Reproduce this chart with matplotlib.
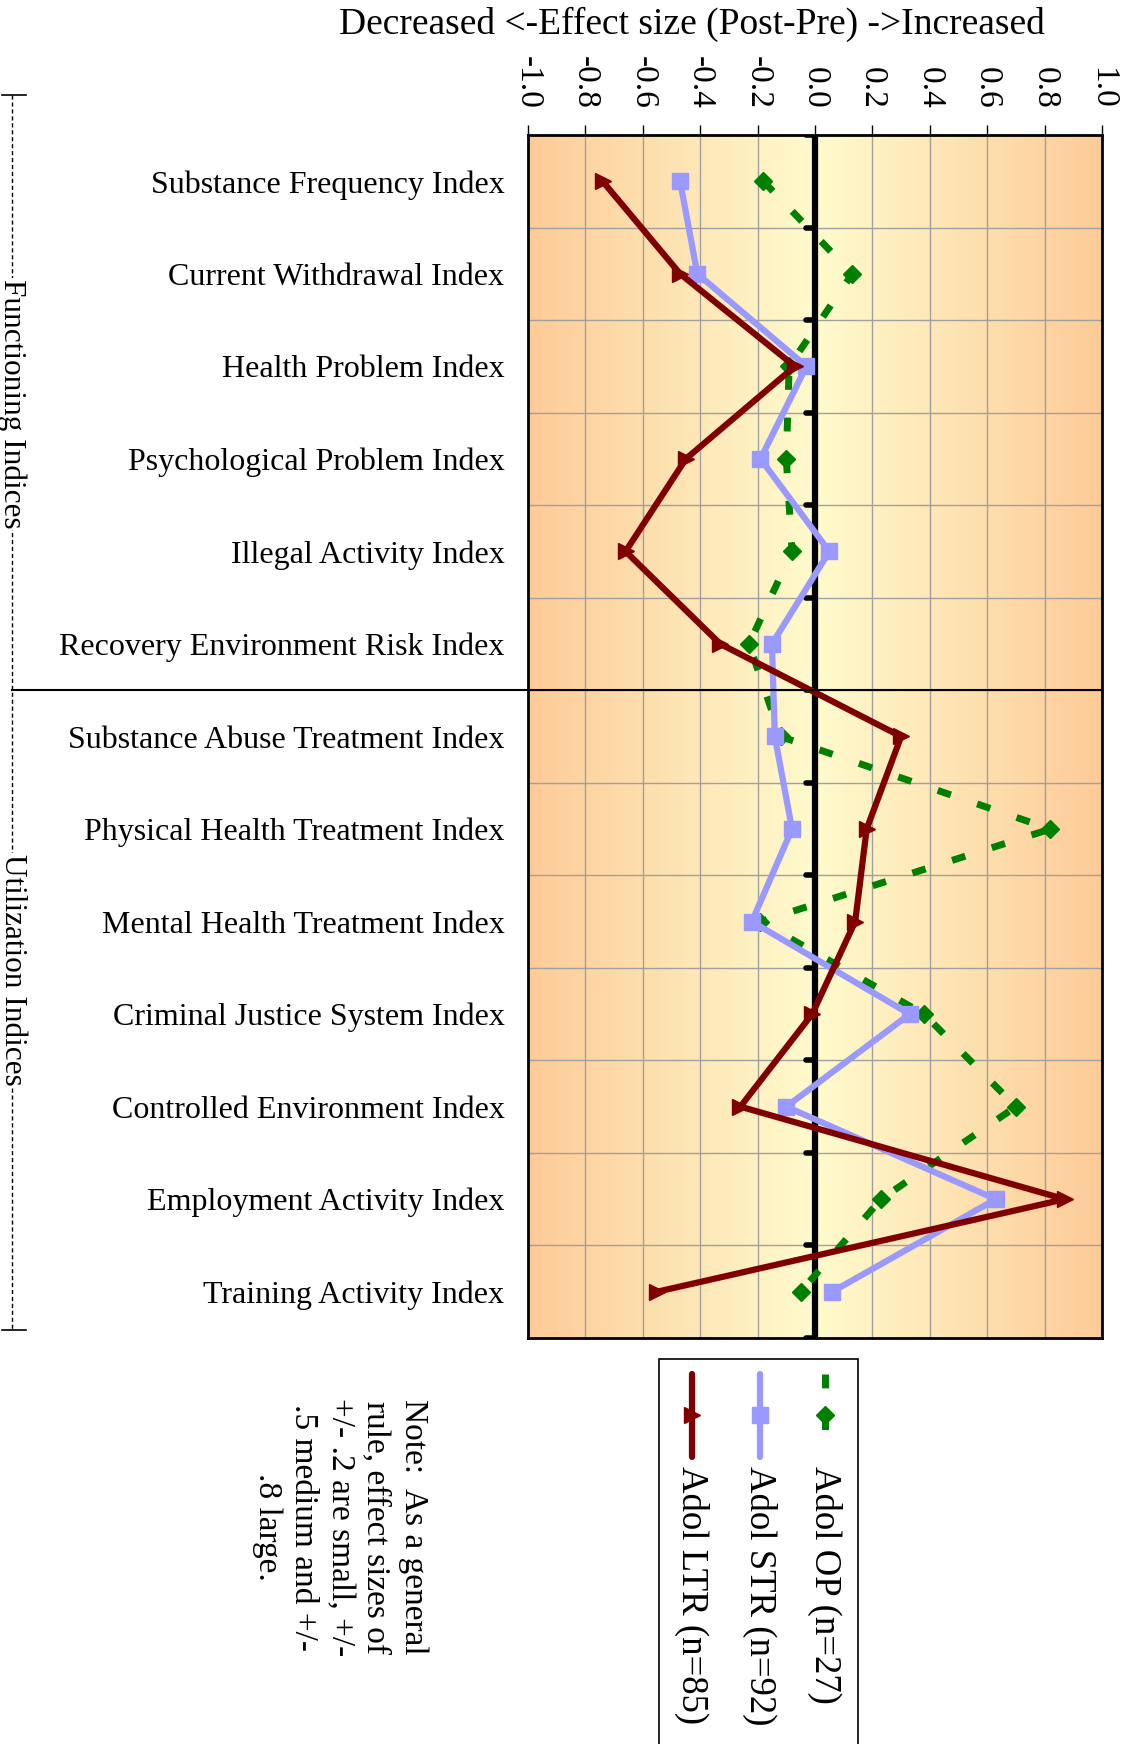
import numpy as np
import matplotlib
matplotlib.use('Agg')
import matplotlib.pyplot as plt
from matplotlib.lines import Line2D
from matplotlib.patches import Rectangle

plt.rcParams['font.family'] = ['Liberation Serif', 'DejaVu Serif']

# Index names (top to bottom)
categories = [
    'Substance Frequency Index',
    'Current Withdrawal Index',
    'Health Problem Index',
    'Psychological Problem Index',
    'Illegal Activity Index',
    'Recovery Environment Risk Index',
    'Substance Abuse Treatment Index',
    'Physical Health Treatment Index',
    'Mental Health Treatment Index',
    'Criminal Justice System Index',
    'Controlled Environment Index',
    'Employment Activity Index',
    'Training Activity Index',
]

# Effect sizes (Post-Pre)
adol_op = [-0.18, 0.13, -0.09, -0.10, -0.08, -0.23, -0.12, 0.82, -0.19, 0.38, 0.70, 0.23, -0.05]
adol_str = [-0.47, -0.41, -0.03, -0.19, 0.05, -0.15, -0.14, -0.08, -0.22, 0.33, -0.10, 0.63, 0.06]
adol_ltr = [-0.74, -0.47, -0.07, -0.45, -0.66, -0.33, 0.30, 0.18, 0.14, -0.01, -0.26, 0.87, -0.55]

series_names = ['Adol OP (n=27)', 'Adol STR (n=92)', 'Adol LTR (n=85)']
x_ticks = [-1.0, -0.8, -0.6, -0.4, -0.2, 0.0, 0.2, 0.4, 0.6, 0.8, 1.0]
n_functioning = 6

W, H = 1121, 1744
fig = plt.figure(figsize=(W / 100, H / 100), dpi=100)
ax = fig.add_axes([528 / W, 1 - 1338 / H, (1102 - 528) / W, (1338 - 135) / H])

ypos = np.arange(len(categories))
bounds = np.arange(len(categories) + 1) - 0.5

# background gradient: light yellow in the middle, orange at the sides
gx = np.linspace(-1, 1, 400)
centre = np.array([255, 251, 205]) / 255
edge = np.array([253, 203, 152]) / 255
t = np.abs(gx)[:, None]
grad = (centre * (1 - t) + edge * t)[None, :, :]
ax.imshow(grad, extent=(-1, 1, bounds[-1], bounds[0]), aspect='auto', zorder=0)

ax.set_axisbelow(True)
ax.set_xlim(-1, 1)
ax.set_ylim(bounds[-1], bounds[0])

# zero axis with small stubs
ax.axvline(0, color='black', lw=4.5, zorder=1)
stubs = ax.hlines(bounds, -0.03, 0, color='black', lw=4, zorder=1)
stubs.set_capstyle('round')

op_dash = (0, (2.0, 4.0))
ax.plot(adol_op, ypos, color='#008000', lw=5, ls=op_dash, marker='D', ms=9,
        zorder=3, label=series_names[0])
ax.plot(adol_str, ypos, color='#9999FF', lw=4.5, marker='s', ms=11,
        zorder=4, label=series_names[1])
ax.plot(adol_ltr, ypos, color='#800000', lw=4.5, marker='>', ms=12,
        zorder=5, label=series_names[2])

ax.set_xticks(x_ticks)
ax.set_xticklabels([f'{v:.1f}' for v in x_ticks])
ax.xaxis.tick_top()
ax.tick_params(axis='x', top=True, bottom=False, labeltop=True, labelbottom=False,
               labelrotation=-90, labelsize=24, length=7, width=1, pad=12)
ax.set_yticks(ypos)
ax.set_yticklabels(categories)
ax.tick_params(axis='y', length=0, labelsize=23, pad=17)
ax.set_yticks(bounds, minor=True)
ax.tick_params(axis='y', which='minor', length=0)
ax.grid(axis='x', which='major', color='#A0A0A0', lw=1)
ax.grid(axis='y', which='minor', color='#A0A0A0', lw=1)
for s in ax.spines.values():
    s.set_linewidth(2)

fig.text(692 / W, 1 - 24 / H, 'Decreased <-Effect size (Post-Pre) ->Increased',
         fontsize=27, ha='center', va='center')

# divider between the two groups of indices
to_fig = ax.transData + fig.transFigure.inverted()
yd = to_fig.transform((0, bounds[n_functioning]))[1]
fig.add_artist(Line2D([12 / W, 1102 / W], [yd, yd], color='black', lw=1.5))

# left bracket with group names
ytop, ybot = 1 - 95 / H, 1 - 1330 / H
fig.add_artist(Line2D([12 / W, 12 / W], [ytop, ybot], color='black', lw=1, ls=(0, (3, 2))))
for yy in (ytop, ybot):
    fig.add_artist(Line2D([2 / W, 26 / W], [yy, yy], color='black', lw=1.2))
fig.text(12 / W, 1 - 404 / H, 'Functioning Indices', rotation=-90, fontsize=22.5,
         ha='center', va='center', bbox=dict(fc='white', ec='none', pad=1))
fig.text(12 / W, 1 - 970 / H, 'Utilization Indices', rotation=-90, fontsize=22.5,
         ha='center', va='center', bbox=dict(fc='white', ec='none', pad=1))

# legend (rotated, drawn by hand)
fig.add_artist(Rectangle((659 / W, -0.01), (858 - 659) / W, 0.01 + 1 - 1359 / H,
                         transform=fig.transFigure, fc='white', ec='black', lw=1.2))
legend_x = [825, 760, 692]
styles = [dict(color='#008000', lw=5, ls=op_dash, marker='D', ms=9),
          dict(color='#9999FF', lw=4.5, marker='s', ms=11),
          dict(color='#800000', lw=4.5, marker='>', ms=12)]
for lx, name, st in zip(legend_x, series_names, styles):
    fig.add_artist(Line2D([lx / W, lx / W], [1 - 1374 / H, 1 - 1457 / H],
                          markevery=[], solid_capstyle='round', **st))
    mk = dict(st)
    mk['ls'] = 'none'
    fig.add_artist(Line2D([lx / W], [1 - 1415 / H], **mk))
    fig.text(lx / W, 1 - 1466 / H, name, rotation=-90, fontsize=26.5,
             ha='center', va='top')

fig.text(340 / W, 1 - 1527 / H,
         'Note:  As a general\nrule, effect sizes of\n+/- .2 are small, +/-\n.5 medium and +/-\n.8 large.',
         rotation=-90, fontsize=24, ha='center', va='center', multialignment='center',
         linespacing=1.25)

fig.savefig('out.png', dpi=100)
